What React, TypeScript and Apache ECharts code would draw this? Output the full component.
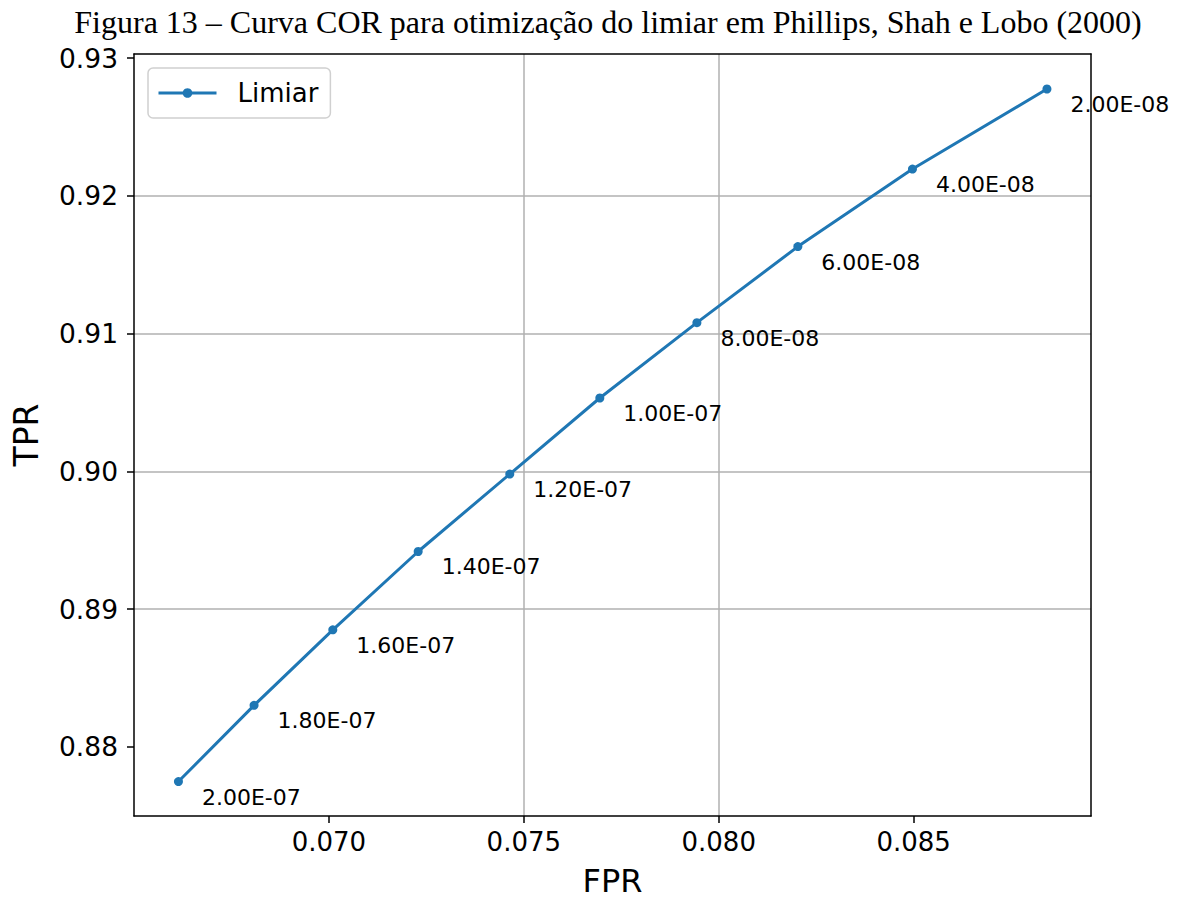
import React, { useEffect, useRef } from "react";
import * as echarts from "echarts";

const titleText = "Figura 13 – Curva COR para otimização do limiar em Phillips, Shah e Lobo (2000)";
const seriesName = "Limiar";
const fpr = [0.06614, 0.06808, 0.0701, 0.07229, 0.07464, 0.07695, 0.07944, 0.08203, 0.08497, 0.08842];
const tpr = [0.87749, 0.88302, 0.8885, 0.89419, 0.89981, 0.90533, 0.9108, 0.91632, 0.92195, 0.92776];
const thresholds = ["2.00E-07", "1.80E-07", "1.60E-07", "1.40E-07", "1.20E-07", "1.00E-07", "8.00E-08", "6.00E-08", "4.00E-08", "2.00E-08"];
const xTicks = [0.07, 0.075, 0.08, 0.085];
const yTicks = [0.88, 0.89, 0.9, 0.91, 0.92, 0.93];
const xRange = [0.065, 0.08955];
const yRange = [0.87499, 0.9303];

const FONT = "DejaVu Sans";
const BLUE = "#1f77b4";

export default function App() {
  const ref = useRef<HTMLDivElement>(null);
  useEffect(() => {
    if (!ref.current) return;
    const chart = echarts.init(ref.current, null, { renderer: "svg" });
    const data = fpr.map((x, i) => ({ value: [x, tpr[i]], label: { formatter: thresholds[i] } }));
    const frameAxis = {
      axisLine: { show: true, lineStyle: { color: "#000", width: 1.5 } },
      axisTick: { show: false },
      axisLabel: { show: false },
      splitLine: { show: false },
    };
    chart.setOption({
      animation: false,
      backgroundColor: "#fff",
      graphic: [
        {
          type: "text",
          x: 608,
          y: 22,
          style: {
            text: titleText,
            fontFamily: "Liberation Serif",
            fontSize: 32,
            fill: "#000",
            align: "center",
            verticalAlign: "middle",
          },
        },
      ],
      grid: { left: 134, right: 88, top: 54, bottom: 83, containLabel: false, outerBoundsMode: "none" },
      legend: {
        left: 148,
        top: 68,
        orient: "vertical",
        backgroundColor: "#fff",
        borderColor: "#d0d0d0",
        borderWidth: 1.5,
        borderRadius: 5,
        padding: [12, 12, 12, 9],
        itemWidth: 58,
        itemHeight: 12,
        lineStyle: { width: 3 },
        textStyle: { fontFamily: FONT, fontSize: 26, color: "#000", padding: [0, 0, 0, 16] },
        data: [seriesName],
      },
      xAxis: [
        {
          type: "value",
          min: xRange[0],
          max: xRange[1],
          name: "FPR",
          nameLocation: "middle",
          nameGap: 49,
          nameTextStyle: { fontFamily: FONT, fontSize: 32, color: "#000" },
          axisLine: { show: true, onZero: false, lineStyle: { color: "#000", width: 1.5 } },
          axisTick: { show: true, length: 7, lineStyle: { color: "#000", width: 1.5 }, customValues: xTicks },
          axisLabel: {
            fontFamily: FONT,
            fontSize: 26,
            color: "#000",
            margin: 13,
            customValues: xTicks,
            formatter: (v: number) => v.toFixed(3),
          },
          splitLine: { show: true, showMinLine: false, showMaxLine: false, lineStyle: { color: "#b0b0b0", width: 1.5 } },
        },
        { type: "value", position: "top", min: xRange[0], max: xRange[1], ...frameAxis },
      ],
      yAxis: [
        {
          type: "value",
          min: yRange[0],
          max: yRange[1],
          name: "TPR",
          nameLocation: "middle",
          nameGap: 91,
          nameTextStyle: { fontFamily: FONT, fontSize: 33, color: "#000" },
          axisLine: { show: true, onZero: false, lineStyle: { color: "#000", width: 1.5 } },
          axisTick: { show: true, length: 7, lineStyle: { color: "#000", width: 1.5 }, customValues: yTicks },
          axisLabel: {
            fontFamily: FONT,
            fontSize: 26.5,
            color: "#000",
            margin: 16,
            customValues: yTicks,
            formatter: (v: number) => v.toFixed(2),
          },
          splitLine: { show: true, showMinLine: false, showMaxLine: false, lineStyle: { color: "#b0b0b0", width: 1.5 } },
        },
        { type: "value", position: "right", min: yRange[0], max: yRange[1], ...frameAxis },
      ],
      series: [
        {
          name: seriesName,
          type: "line",
          data,
          symbol: "circle",
          symbolSize: 9,
          itemStyle: { color: BLUE },
          lineStyle: { color: BLUE, width: 3 },
          label: {
            show: true,
            position: "right",
            distance: 19,
            offset: [0, 15.5],
            fontFamily: FONT,
            fontSize: 22,
            color: "#000",
          },
          z: 3,
        },
      ],
    });
    return () => chart.dispose();
  }, []);
  return (
    <div
      ref={ref}
      style={{ position: "fixed", left: 0, top: 0, width: 1179, height: 899, background: "#fff" }}
    />
  );
}
